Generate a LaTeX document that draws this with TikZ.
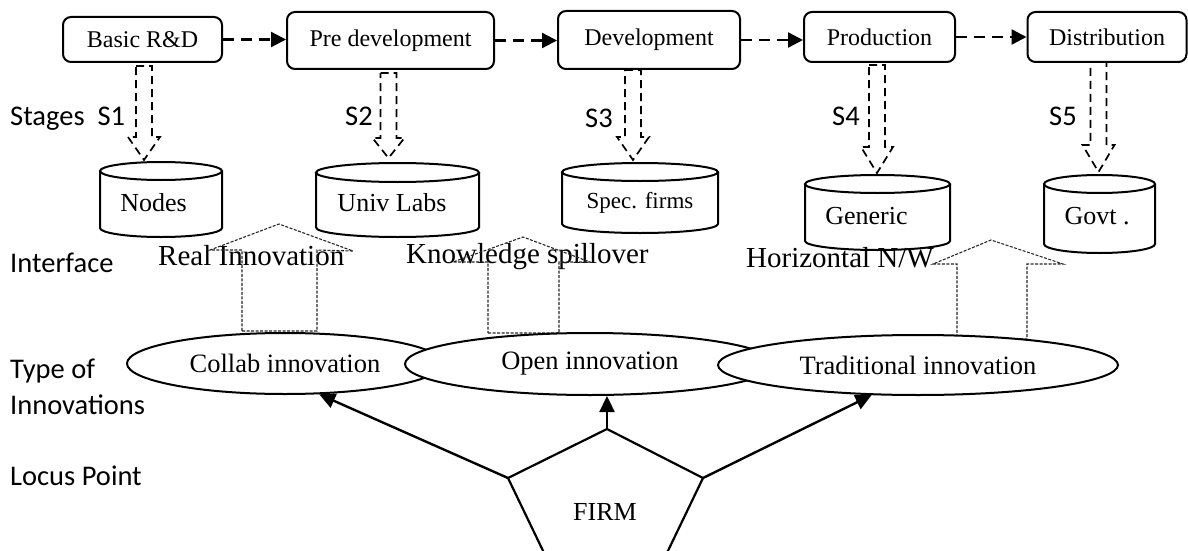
\documentclass[tikz,border=0pt]{standalone}
\usepackage{fontspec}
\setmainfont{Liberation Serif}
\newfontfamily\calibri{Carlito}
\usetikzlibrary{shapes.geometric,arrows.meta,calc}
\newcommand\fs[1]{\fontsize{#1}{#1}\selectfont}
% hollow dashed down arrow: x, top, head base, tip
\newcommand\dnarrow[4]{%
  \draw[dblarrow] ({#1-8},#2) -- ({#1+8},#2) -- ({#1+8},#3) -- ({#1+16},#3)
    -- (#1,#4) -- ({#1-16},#3) -- ({#1-8},#3) -- cycle;}
% cylinder outline: cx, top, bottom, rx, ry
\newcommand\cylout[5]{%
  \draw[cyl] (#1,{#2+#5}) ellipse[x radius=#4pt, y radius=#5pt];
  \draw[cyl] ({#1-#4},{#2+#5}) -- ({#1-#4},{#3-#5})
    arc[start angle=180, end angle=360, x radius=#4pt, y radius=#5pt]
    -- ({#1+#4},{#2+#5});}
\tikzset{
  stagebox/.style={draw, rounded corners=8pt, line width=2pt, inner sep=0pt, font=\fs{24}},
  flowarrow/.style={line width=2.3pt, dash pattern=on 11pt off 7pt, -{Triangle[length=15pt,width=15pt]}},
  dblarrow/.style={line width=1.7pt, dash pattern=on 8pt off 5pt},
  cyl/.style={line width=2pt},
  cyltext/.style={anchor=base, inner sep=0pt, font=\fs{26}},
  sans/.style={anchor=base west, inner sep=0pt, font=\calibri\fs{28.5}},
  iface/.style={anchor=base west, inner sep=0pt, font=\fs{29}},
  iarrow/.style={draw=black!85, line width=1.1pt, dash pattern=on 3pt off 1.5pt},
  ell/.style={ellipse, draw, fill=white, line width=2pt, inner sep=0pt, font=\fs{26.5}},
  farrow/.style={line width=2.4pt, -{Triangle[length=16pt,width=15pt]}},
}
\begin{document}
\begin{tikzpicture}[x=1pt,y=-1pt]
\useasboundingbox (0,0) rectangle (1188,551);
\clip (0,0) rectangle (1188,551);

% stage boxes
\node[stagebox, minimum width=159pt, minimum height=45pt] (b1) at (142.5,39.5) {Basic R\&D};
\node[stagebox, minimum width=207pt, minimum height=57pt] (b2) at (390.5,40.5) {Pre development};
\node[stagebox, minimum width=182pt, minimum height=58pt] (b3) at (649,40) {Development};
\node[stagebox, minimum width=151pt, minimum height=50pt] (b4) at (879.5,37) {Production};
\node[stagebox, minimum width=159pt, minimum height=50pt] (b5) at (1107,37) {Distribution};

\draw[flowarrow] (b1.east) -- (b1.east -| b2.west);
\draw[flowarrow] (b2.east) -- (b2.east -| b3.west);
\draw[flowarrow] (b3.east) -- (b3.east -| b4.west);
\draw[flowarrow] (b4.east) -- (b4.east -| b5.west);

% side labels
\node[sans] (lstages) at (10,125) {Stages\ \ S1};
\node[sans] (ls2) at (345,125) {S2};
\node[sans] (ls3) at (585,127) {S3};
\node[sans] (ls4) at (832,125) {S4};
\node[sans] (ls5) at (1049,125) {S5};
\node[sans] (lint) at (10,272) {Interface};
\node[sans] (ltype) at (10,378) {Type of};
\node[sans] (linn) at (10,414) {Innovations};
\node[sans] (llocus) at (10,485) {Locus Point};

% interface labels
\node[iface] (ireal) at (158,265) {Real Innovation};
\node[iface] (iknow) at (406,263) {Knowledge spillover};
\node[iface] (ihor) at (746,267) {Horizontal N/W};

% down hollow arrows
\dnarrow{144}{66}{137}{160}
\dnarrow{388.5}{73}{138}{158}
\dnarrow{633}{70}{137}{160}
\dnarrow{877}{65}{147}{173}
\dnarrow{1098.5}{62}{145}{172}

% cylinders
\cylout{161}{162}{237}{61}{9}
\cylout{397.5}{163}{237}{81.5}{9.5}
\cylout{640}{163}{233}{78}{9}
\cylout{877.5}{175}{250}{72.5}{9}
\cylout{1099.5}{175}{253}{55.5}{9}
\node[cyltext] (c1) at (153.5,211) {Nodes};
\node[cyltext] (c2) at (392,211) {Univ Labs};
\node[cyltext, font=\fs{23}] (c3) at (640,208) {Spec. firms};
\node[cyltext] (c4) at (866.5,224) {Generic};
\node[cyltext] (c5) at (1097,224) {Govt .};

% interface up arrows
\draw[iarrow] (242,331) -- (317,331) -- (317,250) -- (353,251) -- (279,224) -- (210,250) -- (242,250) -- cycle;
\draw[iarrow] (488,333) -- (559,333) -- (559,262) -- (590,262) -- (523,237) -- (453,262) -- (488,262) -- cycle;
\draw[iarrow] (957,339) -- (1027,339) -- (1027,264) -- (1063,264) -- (991,240) -- (933,264) -- (957,264) -- cycle;

% innovation ellipses
\node[ell, minimum width=316pt, minimum height=61pt] (collab) at (285,363.5) {Collab innovation};
\node[ell, minimum width=370pt, minimum height=62pt] (open) at (590,364) {Open innovation};
\node[ell, minimum width=400pt, minimum height=60pt] (trad) at (918,365) {Traditional innovation};

% firm pentagon
\coordinate (ptop) at (607,429);
\coordinate (pl) at (508,478);
\coordinate (pr) at (703,478);
\coordinate (pbl) at (546,557);
\coordinate (pbr) at (665,557);
\draw[line width=2.2pt, line join=miter] (ptop) -- (pr) -- (pbr) -- (pbl) -- (pl) -- cycle;
\node[font=\fs{26}] (firm) at (605,512) {FIRM};

\draw[farrow] (ptop) -- (ptop |- open.south);
\draw[farrow] (pl) -- (collab.-42);
\draw[farrow] (pr) -- (trad.-147.5);
\end{tikzpicture}
\end{document}
